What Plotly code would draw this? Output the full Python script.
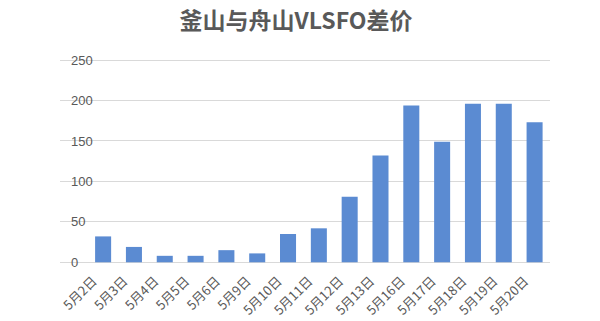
import plotly.graph_objects as go

categories = ["5月2日", "5月3日", "5月4日", "5月5日", "5月6日", "5月9日", "5月10日", "5月11日",
              "5月12日", "5月13日", "5月16日", "5月17日", "5月18日", "5月19日", "5月20日"]
values = [32, 19, 8, 8, 15, 11, 35, 42, 81, 132, 194, 149, 196, 196, 173]
y_ticks = [0, 50, 100, 150, 200, 250]

# axis range extended a little so inside tick labels at 0 and 250 stay visible
y_lo, y_hi = -12, 260
px_per_unit = 202 / 250.0
plot_top = 60 - (y_hi - 250) * px_per_unit
plot_bottom = 262 - y_lo * px_per_unit

fig = go.Figure()
fig.add_trace(go.Bar(
    x=categories, y=values,
    marker=dict(color="#5b8bd2", line=dict(width=0)),
    width=0.52,
))

fig.update_layout(
    width=600, height=321,
    margin=dict(l=60, r=50, t=plot_top, b=321 - plot_bottom, pad=0),
    paper_bgcolor="white", plot_bgcolor="white",
    font=dict(family="Noto Sans CJK SC, Liberation Sans, sans-serif", color="#595959"),
    title=dict(text="<b>釜山与舟山VLSFO差价</b>", x=296 / 600, xref="container", xanchor="center",
               y=1 - 21 / 321, yref="container", yanchor="middle",
               font=dict(size=23, color="#595959")),
    showlegend=False,
)
fig.update_yaxes(
    range=[y_lo, y_hi], tickvals=y_ticks, ticktext=[str(v) for v in y_ticks],
    showgrid=True, gridcolor="#d9d9d9", gridwidth=1,
    zeroline=True, zerolinecolor="#d9d9d9", zerolinewidth=1, showline=False,
    ticklabelposition="inside", ticks="", ticklabelstandoff=8,
    tickfont=dict(size=13, color="#595959", family="Liberation Sans, sans-serif"),
    fixedrange=True, automargin=False,
)
fig.update_xaxes(
    showline=False, showgrid=False,
    tickangle=-45, ticks="", ticklabelshift=-10, ticklabelstandoff=-2,
    tickfont=dict(size=13, color="#595959"),
    fixedrange=True, automargin=False,
)

fig.write_html("out.html")
